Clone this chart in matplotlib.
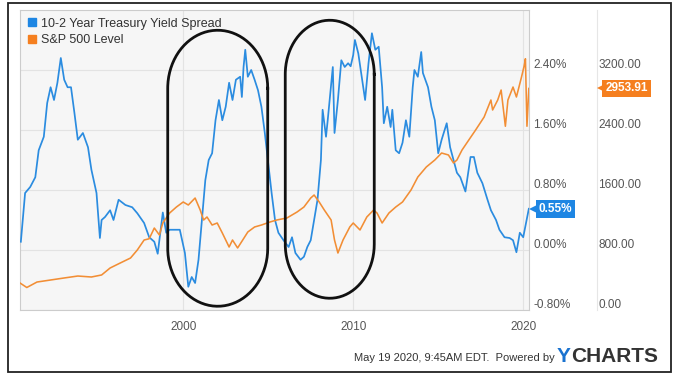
import matplotlib.pyplot as plt
import numpy as np
from matplotlib.lines import Line2D
from matplotlib.patches import Rectangle
from matplotlib.transforms import Affine2D, ScaledTranslation, blended_transform_factory

plt.rcParams['font.family'] = ['Liberation Sans', 'DejaVu Sans']

# 10-2 year treasury spread (%)
spread_years = [1990.45, 1990.7, 1991.0, 1991.3, 1991.5, 1991.8, 1992.0, 1992.2, 1992.4, 1992.6,
                1992.8, 1993.0, 1993.2, 1993.4, 1993.6, 1993.8, 1994.1, 1994.4, 1994.6, 1994.9,
                1995.1, 1995.2, 1995.4, 1995.7, 1995.9, 1996.2, 1996.6, 1997.0, 1997.3, 1997.7,
                1998.0, 1998.3, 1998.5, 1998.8, 1999.0, 1999.2, 1999.8, 2000.1, 2000.3, 2000.5,
                2000.7, 2000.9, 2001.1, 2001.3, 2001.5, 2001.7, 2001.9, 2002.1, 2002.3, 2002.5,
                2002.7, 2002.9, 2003.1, 2003.35, 2003.45, 2003.55, 2003.65, 2003.8, 2004.0, 2004.2,
                2004.4, 2004.6, 2004.8, 2005.0, 2005.2, 2005.4, 2005.6, 2005.9, 2006.2, 2006.4,
                2006.6, 2006.9, 2007.1, 2007.3, 2007.5, 2007.7, 2007.9, 2008.1, 2008.2, 2008.4,
                2008.5, 2008.8, 2008.9, 2009.1, 2009.3, 2009.5, 2009.7, 2009.85, 2010.0, 2010.1,
                2010.3, 2010.5, 2010.7, 2010.9, 2011.1, 2011.3, 2011.5, 2011.7, 2011.8, 2012.0,
                2012.2, 2012.3, 2012.5, 2012.7, 2012.9, 2013.1, 2013.3, 2013.5, 2013.6, 2013.8,
                2014.0, 2014.1, 2014.4, 2014.6, 2014.8, 2015.0, 2015.2, 2015.5, 2015.7, 2015.9,
                2016.1, 2016.3, 2016.6, 2016.9, 2017.1, 2017.3, 2017.6, 2017.9, 2018.1, 2018.4,
                2018.6, 2018.9, 2019.2, 2019.4, 2019.6, 2019.8, 2020.0, 2020.2, 2020.33]
spread_pct = [0.11, 0.76, 0.84, 0.97, 1.33, 1.51, 1.96, 2.17, 2.00, 2.23,
              2.56, 2.27, 2.17, 2.17, 1.83, 1.47, 1.56, 1.37, 1.07, 0.76,
              0.16, 0.40, 0.44, 0.53, 0.40, 0.67, 0.60, 0.57, 0.49, 0.36,
              0.17, 0.11, -0.05, 0.50, 0.23, 0.27, 0.27, -0.04, -0.49, -0.36,
              -0.44, -0.13, 0.40, 0.93, 1.20, 1.29, 1.73, 2.00, 1.73, 1.91,
              2.23, 2.00, 2.27, 2.31, 2.04, 2.44, 2.67, 2.31, 2.40, 2.27,
              2.13, 1.91, 1.56, 1.16, 0.76, 0.40, 0.23, 0.13, 0.04, 0.17,
              -0.04, -0.13, -0.09, 0.04, 0.13, 0.40, 0.67, 1.20, 1.87, 1.51,
              1.73, 2.44, 1.56, 2.00, 2.53, 2.44, 2.49, 2.45, 2.60, 2.80,
              2.62, 2.31, 2.00, 2.49, 2.89, 2.67, 2.71, 2.17, 1.69, 1.91,
              1.64, 1.87, 1.33, 1.29, 1.43, 1.73, 1.51, 2.17, 2.40, 2.31,
              2.64, 2.36, 2.17, 1.91, 1.73, 1.29, 1.47, 1.69, 1.37, 1.20,
              1.03, 0.97, 0.78, 1.24, 1.24, 1.03, 0.89, 0.67, 0.53, 0.40,
              0.27, 0.17, 0.16, 0.13, -0.03, 0.23, 0.17, 0.40, 0.55]

# S&P 500 level
spx_years = [1990.4, 1990.8, 1991.4, 1992.2, 1993.0, 1993.8, 1994.6, 1995.2, 1995.7, 1996.3,
             1996.9, 1997.3, 1997.7, 1998.0, 1998.3, 1998.6, 1998.8, 1999.2, 1999.6, 2000.0,
             2000.3, 2000.7, 2001.0, 2001.2, 2001.4, 2001.7, 2002.0, 2002.3, 2002.7, 2002.9,
             2003.2, 2003.5, 2003.8, 2004.2, 2004.6, 2005.1, 2005.5, 2006.1, 2006.7, 2007.1,
             2007.5, 2007.7, 2008.0, 2008.3, 2008.7, 2008.9, 2009.1, 2009.4, 2009.8, 2010.0,
             2010.4, 2010.8, 2011.2, 2011.4, 2011.7, 2012.1, 2012.5, 2012.9, 2013.4, 2013.8,
             2014.3, 2014.8, 2015.2, 2015.6, 2015.9, 2016.1, 2016.4, 2016.8, 2017.2, 2017.7,
             2018.1, 2018.2, 2018.5, 2018.7, 2018.95, 2019.1, 2019.4, 2019.6, 2019.9, 2020.05,
             2020.13, 2020.22, 2020.33]
spx_level = [360, 300, 373, 400, 427, 453, 440, 467, 560, 627,
             693, 800, 933, 950, 1093, 1000, 1160, 1293, 1373, 1440,
             1400, 1493, 1333, 1200, 1240, 1133, 1160, 1027, 840, 933,
             827, 933, 1040, 1107, 1133, 1173, 1200, 1227, 1307, 1373,
             1493, 1533, 1440, 1333, 1200, 933, 760, 933, 1107, 1160,
             1067, 1240, 1333, 1293, 1160, 1293, 1373, 1440, 1600, 1773,
             1907, 2000, 2093, 2067, 1960, 2000, 2133, 2267, 2400, 2573,
             2800, 2667, 2800, 2933, 2450, 2800, 2973, 2840, 3107, 3250,
             3350, 2450, 2953.91]

pct_ticks = [-0.8, 0.0, 0.8, 1.6, 2.4]
spx_ticks = [0, 800, 1600, 2400, 3200]
year_ticks = [2000, 2010, 2020]

blue = '#2b8ce0'
orange = '#f28e35'
tag_blue = '#1e86e3'
tag_orange = '#f57f1f'
W, H = 685, 375

fig = plt.figure(figsize=(W / 100, H / 100), dpi=100)
ax = fig.add_axes([20 / W, 65 / H, 509 / W, 300 / H])
ax2 = ax.twinx()

ax.set_facecolor('#f6f6f6')
ax.plot(spread_years, spread_pct, color=blue, lw=1.25, zorder=3)
ax.set_xlim(1990.4, 2020.34)
ax.set_ylim(-0.8, 3.2)
ax.set_xticks(year_ticks)
ax.set_yticks(pct_ticks)
ax.set_yticklabels([f'{v:.2f}%' for v in pct_ticks])
ax.yaxis.tick_right()
ax.grid(True, color='#e3e3e3', lw=0.8)
ax.tick_params(length=0, labelsize=8.5, labelcolor='#555555')
ax.tick_params(axis='y', pad=3)
ax.tick_params(axis='x', pad=8)
for s in ax.spines.values():
    s.set_color('#cccccc')
    s.set_linewidth(0.8)

ax2.plot(spx_years, spx_level, color=orange, lw=1.15)
ax2.set_ylim(0, 4000)
ax2.set_yticks(spx_ticks)
ax2.set_yticklabels([f'{v:.2f}' for v in spx_ticks])
ax2.tick_params(length=0, labelsize=8.5, labelcolor='#555555', pad=50)
for s in ax2.spines.values():
    s.set_visible(False)

# y labels sit a little above their gridlines
up = ScaledTranslation(0, 7 / 100, fig.dpi_scale_trans)
for a in (ax, ax2):
    for t in a.yaxis.get_major_ticks():
        t.label1.set_transform(t.label1.get_transform() + up)
        t.label2.set_transform(t.label2.get_transform() + up)

# separator between the two label columns
ax.plot([577 / 509] * 2, [0, 1], transform=ax.transAxes, color='#e6e6e6', lw=0.8, clip_on=False)

# legend
handles = [Line2D([], [], ls='none', marker='s', ms=6, color=tag_blue),
           Line2D([], [], ls='none', marker='s', ms=6, color=tag_orange)]
leg = ax.legend(handles, ['10-2 Year Treasury Yield Spread', 'S&P 500 Level'], loc='upper left',
                frameon=False, fontsize=9, handlelength=0.7, handletextpad=0.4, labelspacing=0.35,
                borderaxespad=0.3, borderpad=0.3)
for t in leg.get_texts():
    t.set_color('#333333')

# last value tags
tb = blended_transform_factory(ax.transAxes, ax.transData)
ax.annotate(f'{spread_pct[-1]:.2f}%', xy=(1, spread_pct[-1]), xycoords=tb, xytext=(7, 0),
            textcoords='offset points', ha='left', va='center', color='white', fontsize=8.5,
            fontweight='bold', bbox=dict(boxstyle='square,pad=0.25', fc=tag_blue, ec='none'),
            annotation_clip=False, zorder=8)
ax.plot([1], [spread_pct[-1]], marker='<', ms=9, mew=0, color=tag_blue, clip_on=False, zorder=5,
        transform=tb + ScaledTranslation(6 / 100, 0, fig.dpi_scale_trans))

tb2 = blended_transform_factory(ax2.transAxes, ax2.transData)
ax2.annotate(f'{spx_level[-1]:.2f}', xy=(1, spx_level[-1]), xycoords=tb2, xytext=(55, 0),
             textcoords='offset points', ha='left', va='center', color='white', fontsize=8.5,
             fontweight='bold', bbox=dict(boxstyle='square,pad=0.25', fc=tag_orange, ec='none'),
             annotation_clip=False, zorder=8)
ax2.plot([1], [spx_level[-1]], marker='<', ms=9, mew=0, color=tag_orange, clip_on=False, zorder=5,
         transform=tb2 + ScaledTranslation(74 / 100, 0, fig.dpi_scale_trans))


# hand drawn rounded loops around the two inversions (sizes in pixels, centre in data)
def loop(cx, cy, half_w, half_h, cap):
    t = np.linspace(0, np.pi, 80)
    side = half_h - cap
    top_x, top_y = half_w * np.cos(t), side + cap * np.sin(t)
    bot_x, bot_y = -half_w * np.cos(t), -side - cap * np.sin(t)
    x = np.concatenate([top_x, bot_x, top_x[:1]])
    y = np.concatenate([top_y, bot_y, top_y[:1]])
    tr = Affine2D().scale(1 / 100) + fig.dpi_scale_trans + ScaledTranslation(cx, cy, ax.transData)
    ax2.plot(x, y, color='#111111', lw=2.0, transform=tr, clip_on=False, zorder=7)


loop(2002.03, 1.09, 50, 138, 58)
loop(2008.62, 1.21, 44.5, 139, 54)

# footer
fig.text(555 / W, 1 - 358 / H, 'May 19 2020, 9:45AM EDT.  Powered by', ha='right', va='center',
         fontsize=8, color='#333333')
y_txt = fig.text(557 / W, 1 - 356 / H, 'Y', ha='left', va='center', fontsize=15,
                 fontweight='bold', color='#1a73d0')
ax.annotate('CHARTS', xy=(1, 0.5), xycoords=y_txt, ha='left', va='center', fontsize=15,
            fontweight='bold', color='#333333', annotation_clip=False)

fig.add_artist(Rectangle((8 / W, 3 / H), 663 / W, 369 / H, transform=fig.transFigure,
                         fill=False, ec='#222222', lw=1.3))

fig.savefig('out.png', dpi=100)
